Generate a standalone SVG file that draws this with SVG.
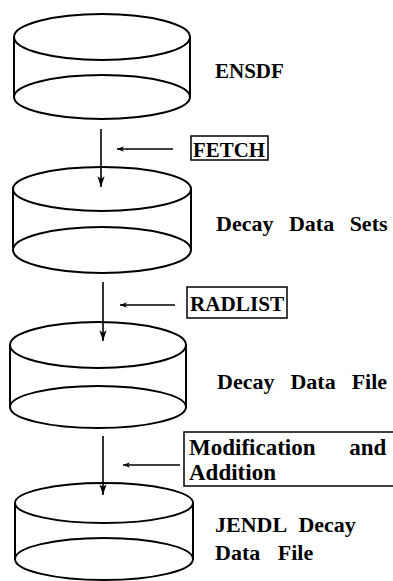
<svg xmlns="http://www.w3.org/2000/svg" width="393" height="581" viewBox="0 0 393 581">
<defs>
<style>
.cyl{fill:none;stroke:#000;stroke-width:2}
.conn{stroke:#000;stroke-width:1.6;fill:none}
.box{fill:#fff;stroke:#000;stroke-width:1.5}
.t{font-family:"Liberation Serif","Times New Roman",serif;font-weight:bold;font-size:22px;fill:#000}
</style>
<marker id="ah" viewBox="0 0 12 10" refX="12" refY="5" markerWidth="12" markerHeight="9" markerUnits="userSpaceOnUse" orient="auto">
<path d="M0,1 L12,5 L0,9 L3,5 Z" fill="#000"/>
</marker>
<marker id="ahs" viewBox="0 0 10 10" refX="10" refY="5" markerWidth="9" markerHeight="7" markerUnits="userSpaceOnUse" orient="auto">
<path d="M0,1 L10,5 L0,9 L3,5 Z" fill="#000"/>
</marker>
</defs>
<rect width="393" height="581" fill="#fff"/>
<g id="connectors">
<line class="conn" x1="101" y1="129" x2="101" y2="187" marker-end="url(#ah)"/>
<line class="conn" x1="173" y1="149" x2="117" y2="149" marker-end="url(#ahs)"/>
<line class="conn" x1="103" y1="282" x2="103" y2="341" marker-end="url(#ah)"/>
<line class="conn" x1="175" y1="305" x2="120" y2="305" marker-end="url(#ahs)"/>
<line class="conn" x1="103" y1="436" x2="103" y2="495" marker-end="url(#ah)"/>
<line class="conn" x1="180" y1="465" x2="123" y2="465" marker-end="url(#ahs)"/>
</g>
<g id="ensdf">
<ellipse class="cyl" cx="102" cy="37" rx="88" ry="23"/>
<path class="cyl" d="M14,37 V97 M190,37 V97"/>
<ellipse class="cyl" cx="102" cy="97" rx="88" ry="22"/>
<text class="t" x="215" y="78" style="font-size:21px">ENSDF</text>
</g>
<g id="fetch">
<rect class="box" x="191" y="136" width="77" height="24"/>
<text class="t" x="193" y="157" textLength="72" lengthAdjust="spacingAndGlyphs">FETCH</text>
</g>
<g id="decay-data-sets">
<ellipse class="cyl" cx="102" cy="189" rx="89" ry="22"/>
<path class="cyl" d="M13,189 V250 M191,189 V250"/>
<ellipse class="cyl" cx="102" cy="250" rx="89" ry="23"/>
<text class="t" x="216" y="231" word-spacing="10">Decay Data Sets</text>
</g>
<g id="radlist">
<rect class="box" x="187" y="287" width="100" height="31"/>
<text class="t" x="190" y="311" textLength="94" lengthAdjust="spacingAndGlyphs">RADLIST</text>
</g>
<g id="decay-data-file">
<ellipse class="cyl" cx="98" cy="345" rx="88" ry="23"/>
<path class="cyl" d="M10,345 V407 M186,345 V407"/>
<ellipse class="cyl" cx="98" cy="407" rx="88" ry="21"/>
<text class="t" x="217" y="389" word-spacing="10.5">Decay Data File</text>
</g>
<g id="modification">
<rect class="box" x="184" y="432" width="214" height="54"/>
<text class="t" x="189" y="455" style="font-size:23px" word-spacing="28">Modification and</text>
<text class="t" x="189" y="480" style="font-size:23px">Addition</text>
</g>
<g id="jendl">
<ellipse class="cyl" cx="104" cy="503" rx="89" ry="20"/>
<path class="cyl" d="M15,503 V559 M193,503 V559"/>
<ellipse class="cyl" cx="104" cy="559" rx="89" ry="21"/>
<text class="t" x="215" y="532" word-spacing="7">JENDL Decay</text>
<text class="t" x="215" y="560" word-spacing="12">Data File</text>
</g>
</svg>
